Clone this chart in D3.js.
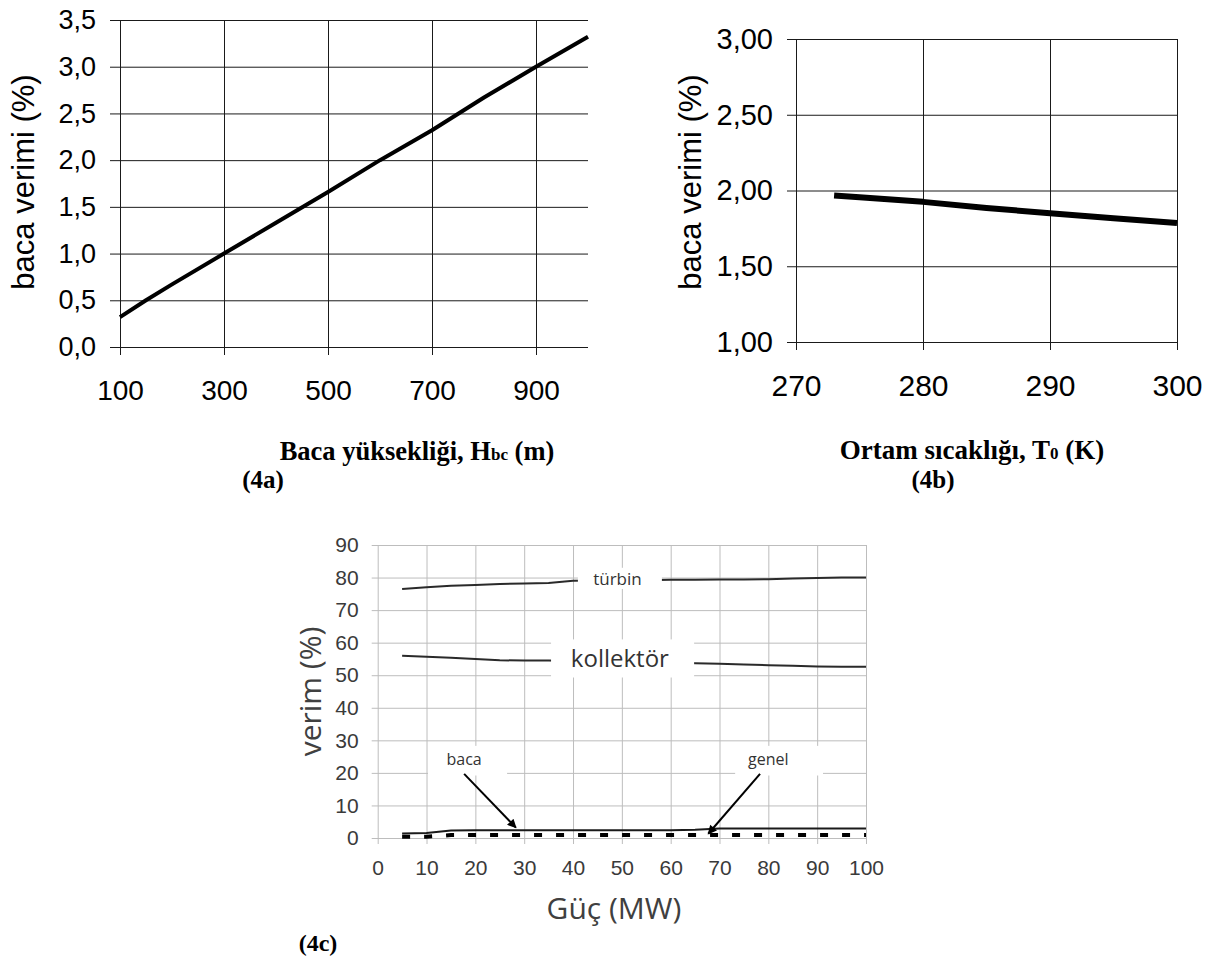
<!DOCTYPE html>
<html>
<head>
<meta charset="utf-8">
<script src="https://cdn.jsdelivr.net/npm/d3@7"></script>
<style>
  html, body { margin: 0; padding: 0; background: #fff; }
  svg { display: block; }
</style>
</head>
<body>
<svg id="chart" width="1207" height="961"></svg>
<script>
// ---------- DATA ----------
// (4a) chimney efficiency vs chimney height
const hbcHeights = [100, 150, 200, 300, 400, 500, 600, 700, 800, 900, 1000];
const hbcEff     = [0.32, 0.50, 0.67, 1.00, 1.33, 1.66, 2.00, 2.32, 2.67, 3.00, 3.32];
const hbcYTicks  = [0, 0.5, 1.0, 1.5, 2.0, 2.5, 3.0, 3.5];
const hbcXTicks  = [100, 300, 500, 700, 900];

// (4b) chimney efficiency vs ambient temperature
const t0Temps = [273, 275, 280, 285, 290, 295, 300];
const t0Eff   = [1.967, 1.955, 1.925, 1.885, 1.850, 1.817, 1.785];
const t0YTicks = [1.0, 1.5, 2.0, 2.5, 3.0];
const t0XTicks = [270, 280, 290, 300];

// (4c) efficiencies vs power
const gucPower     = [5, 10, 15, 20, 25, 30, 35, 40, 45, 50, 55, 60, 65, 70, 75, 80, 85, 90, 95, 100];
const turbinEff    = [76.5, 77.0, 77.5, 77.7, 78.0, 78.2, 78.3, 79.0, 79.1, 79.2, 79.2, 79.3, 79.3, 79.4, 79.4, 79.5, 79.7, 79.9, 80.0, 80.0];
const kollektorEff = [56.0, 55.7, 55.4, 55.0, 54.6, 54.5, 54.5, 54.4, 54.3, 54.2, 54.0, 53.9, 53.7, 53.5, 53.3, 53.1, 52.9, 52.7, 52.6, 52.6];
const bacaEff      = [1.4, 1.5, 2.3, 2.4, 2.4, 2.4, 2.4, 2.4, 2.4, 2.4, 2.4, 2.4, 2.5, 2.9, 2.9, 2.9, 2.9, 2.9, 2.9, 2.9];
const genelEff     = [0.4, 0.4, 0.9, 0.9, 0.9, 0.9, 0.9, 0.9, 0.9, 0.9, 0.9, 0.9, 0.9, 0.9, 0.9, 0.9, 0.9, 0.9, 0.9, 0.9];
const gucXTicks = [0, 10, 20, 30, 40, 50, 60, 70, 80, 90, 100];
const gucYTicks = [0, 10, 20, 30, 40, 50, 60, 70, 80, 90];
// annotation arrows: [fromX, fromY, toX, toY] in data units
const bacaArrow  = [17.7, 19.7, 28.3, 3.2];
const genelArrow = [78.3, 19.7, 67.7, 1.3];

// ---------- DRAW ----------
const svg = d3.select("#chart");
const ARIAL = "'Liberation Sans', Arial, sans-serif";
const SERIF = "'Liberation Serif', 'Times New Roman', serif";
const SEGOE = "'Open Sans', 'Noto Sans', sans-serif";

function frameAxes(g, x, y, xTicks, yTicks, opt) {
  const [x0, x1] = x.range();
  const [y0, y1] = y.range();
  const ya = g.append("g")
    .attr("transform", `translate(${x0 - opt.tickExtX},0)`)
    .call(d3.axisLeft(y).tickValues(yTicks).tickSizeOuter(0)
      .tickSize(-(opt.gridRight - x0 + opt.tickExtX)).tickPadding(opt.yPad)
      .tickFormat(opt.yFmt));
  ya.select(".domain").remove();
  ya.selectAll("line").attr("stroke", opt.gridColor).attr("stroke-width", 1);
  ya.selectAll("text").attr("font-family", opt.tickFont).attr("font-size", opt.yFont)
    .attr("fill", opt.textColor);
  const xa = g.append("g")
    .attr("transform", `translate(0,${y0 + opt.tickExtY})`)
    .call(d3.axisBottom(x).tickValues(xTicks).tickSizeOuter(0)
      .tickSize(-(y0 - y1 + opt.tickExtY)).tickPadding(opt.xPad));
  xa.select(".domain").remove();
  xa.selectAll("line").attr("stroke", opt.gridColor).attr("stroke-width", 1);
  xa.selectAll("text").attr("font-family", opt.tickFont).attr("font-size", opt.xFont)
    .attr("fill", opt.textColor);
}

// ===== (4a) =====
{
  const g = svg.append("g");
  const x = d3.scaleLinear().domain([100, 1000]).range([120, 588]);
  const y = d3.scaleLinear().domain([0, 3.5]).range([347, 20]);
  frameAxes(g, x, y, hbcXTicks, hbcYTicks, {
    tickExtX: 10, tickExtY: 8, gridRight: 588, gridColor: "#1a1a1a",
    yPad: 14, xPad: 25, yFont: 27, xFont: 28, tickFont: ARIAL, textColor: "#000",
    yFmt: d => d3.format(".1f")(d).replace(".", ",")
  });
  g.append("path")
    .datum(hbcHeights.map((h, i) => [h, hbcEff[i]]))
    .attr("fill", "none").attr("stroke", "#000").attr("stroke-width", 4)
    .attr("stroke-linejoin", "round")
    .attr("d", d3.line().x(d => x(d[0])).y(d => y(d[1])));
  g.append("text")
    .attr("transform", "translate(34,182) rotate(-90)")
    .attr("text-anchor", "middle").attr("font-family", ARIAL).attr("font-size", 31)
    .text("baca verimi (%)");
  const t = g.append("text").attr("x", 417).attr("y", 460).attr("text-anchor", "middle")
    .attr("font-family", SERIF).attr("font-weight", "bold").attr("font-size", 26.5);
  t.append("tspan").text("Baca yüksekliği, H");
  t.append("tspan").attr("font-size", 17).text("bc");
  t.append("tspan").text(" (m)");
  g.append("text").attr("x", 263).attr("y", 488).attr("text-anchor", "middle")
    .attr("font-family", SERIF).attr("font-weight", "bold").attr("font-size", 25).text("(4a)");
}

// ===== (4b) =====
{
  const g = svg.append("g");
  const x = d3.scaleLinear().domain([270, 300]).range([796, 1177]);
  const y = d3.scaleLinear().domain([1, 3]).range([342, 39]);
  frameAxes(g, x, y, t0XTicks, t0YTicks, {
    tickExtX: 9, tickExtY: 8, gridRight: 1177, gridColor: "#1a1a1a",
    yPad: 14, xPad: 25, yFont: 29, xFont: 30, tickFont: ARIAL, textColor: "#000",
    yFmt: d => d3.format(".2f")(d).replace(".", ",")
  });
  g.append("path")
    .datum(t0Temps.map((t, i) => [t, t0Eff[i]]))
    .attr("fill", "none").attr("stroke", "#000").attr("stroke-width", 6)
    .attr("stroke-linejoin", "round")
    .attr("d", d3.line().x(d => x(d[0])).y(d => y(d[1])));
  g.append("text")
    .attr("transform", "translate(701,182) rotate(-90)")
    .attr("text-anchor", "middle").attr("font-family", ARIAL).attr("font-size", 31)
    .text("baca verimi (%)");
  const t = g.append("text").attr("x", 972).attr("y", 459).attr("text-anchor", "middle")
    .attr("font-family", SERIF).attr("font-weight", "bold").attr("font-size", 27);
  t.append("tspan").text("Ortam sıcaklığı, T");
  t.append("tspan").attr("font-size", 17).text("0");
  t.append("tspan").text(" (K)");
  g.append("text").attr("x", 933).attr("y", 488).attr("text-anchor", "middle")
    .attr("font-family", SERIF).attr("font-weight", "bold").attr("font-size", 25).text("(4b)");
}

// ===== (4c) =====
{
  const g = svg.append("g");
  const x = d3.scaleLinear().domain([0, 100]).range([377.7, 866]);
  const y = d3.scaleLinear().domain([0, 90]).range([838, 545]);
  frameAxes(g, x, y, gucXTicks, gucYTicks, {
    tickExtX: 6, tickExtY: 6, gridRight: 866, gridColor: "#bdbdbd",
    yPad: 13, xPad: 16, yFont: 21, xFont: 21, tickFont: ARIAL, textColor: "#3a3a3a",
    yFmt: d => d
  });
  const line = d3.line().x(d => x(d[0])).y(d => y(d[1]));
  const series = (vals) => gucPower.map((p, i) => [p, vals[i]]);
  g.append("path").datum(series(turbinEff)).attr("fill", "none")
    .attr("stroke", "#2a2a2a").attr("stroke-width", 2).attr("d", line);
  g.append("path").datum(series(kollektorEff)).attr("fill", "none")
    .attr("stroke", "#2a2a2a").attr("stroke-width", 2).attr("d", line);
  g.append("path").datum(series(bacaEff)).attr("fill", "none")
    .attr("stroke", "#1a1a1a").attr("stroke-width", 2).attr("d", line);
  g.append("path").datum(series(genelEff)).attr("fill", "none")
    .attr("stroke", "#000").attr("stroke-width", 4).attr("stroke-dasharray", "8,14")
    .attr("d", line);

  const box = (x0, x1, y0, y1) => g.append("rect")
    .attr("x", x(x0)).attr("y", y(y1)).attr("width", x(x1) - x(x0)).attr("height", y(y0) - y(y1))
    .attr("fill", "#fff");
  box(41, 58.2, 76.5, 83);
  box(35.5, 64.8, 49.3, 61);
  box(10.3, 26.5, 19.2, 28.3);
  box(73.2, 91.2, 19.2, 28.3);

  const lbl = (tx, ty, size, s) => g.append("text").attr("x", x(tx)).attr("y", y(ty))
    .attr("text-anchor", "middle").attr("font-family", SEGOE).attr("font-size", size)
    .attr("fill", "#333").text(s);
  lbl(49.1, 77.7, 17, "türbin");
  lbl(49.6, 52.5, 24, "kollektör");
  lbl(17.7, 22.5, 16, "baca");
  lbl(80.0, 22.5, 16, "genel");

  const defs = svg.append("defs");
  defs.append("marker").attr("id", "ah").attr("viewBox", "0 0 10 10")
    .attr("refX", 9).attr("refY", 5).attr("markerWidth", 11).attr("markerHeight", 9)
    .attr("markerUnits", "userSpaceOnUse").attr("orient", "auto")
    .append("path").attr("d", "M0,0 L10,5 L0,10 z").attr("fill", "#000");
  [bacaArrow, genelArrow].forEach(a => {
    g.append("line").attr("x1", x(a[0])).attr("y1", y(a[1])).attr("x2", x(a[2])).attr("y2", y(a[3]))
      .attr("stroke", "#000").attr("stroke-width", 2).attr("marker-end", "url(#ah)");
  });

  g.append("text")
    .attr("transform", `translate(321,${y(45)}) rotate(-90)`)
    .attr("text-anchor", "middle").attr("font-family", SEGOE).attr("font-size", 30)
    .attr("fill", "#404040").text("verim (%)");
  g.append("text").attr("x", 614).attr("y", 919).attr("text-anchor", "middle")
    .attr("font-family", SEGOE).attr("font-size", 30).attr("fill", "#404040").text("Güç (MW)");
  g.append("text").attr("x", 318).attr("y", 951).attr("text-anchor", "middle")
    .attr("font-family", SERIF).attr("font-weight", "bold").attr("font-size", 24).text("(4c)");
}
</script>
</body>
</html>
